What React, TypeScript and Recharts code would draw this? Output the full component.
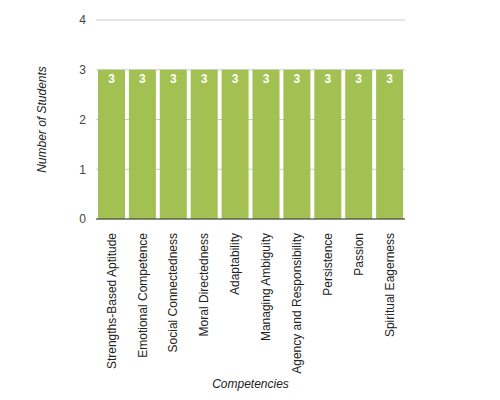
import React from "react"
import { BarChart, Bar, XAxis, YAxis, CartesianGrid, LabelList } from "recharts"

const competencies = [
  "Strengths-Based Aptitude",
  "Emotional Competence",
  "Social Connectedness",
  "Moral Directedness",
  "Adaptability",
  "Managing Ambiguity",
  "Agency and Responsibility",
  "Persistence",
  "Passion",
  "Spiritual Eagerness",
]
const studentCounts = [3, 3, 3, 3, 3, 3, 3, 3, 3, 3]
const yTicks = [0, 1, 2, 3, 4]

const FONT = "Arial, 'Liberation Sans', sans-serif"
const BAR_COLOR = "#a2c152"

const data = competencies.map((name, i) => ({ name, students: studentCounts[i] }))

function CategoryTick(props: any) {
  const { x, y, payload } = props
  return (
    <g transform={`translate(${x},${y + 6})`}>
      <text
        transform="rotate(-90)"
        textAnchor="end"
        dy="0.35em"
        fill="#222"
        fontSize={12}
        fontFamily={FONT}
      >
        {payload.value}
      </text>
    </g>
  )
}

function YTitle(props: any) {
  const { viewBox } = props
  const cy = viewBox.y + viewBox.height / 2
  return (
    <text
      x={42}
      y={cy}
      transform={`rotate(-90, 42, ${cy})`}
      textAnchor="middle"
      dominantBaseline="central"
      fontStyle="italic"
      fontSize={12}
      fontFamily={FONT}
      fill="#222"
    >
      Number of Students
    </text>
  )
}

function XTitle(props: any) {
  const { viewBox } = props
  const cx = viewBox.x + viewBox.width / 2
  return (
    <text
      x={cx}
      y={388}
      textAnchor="middle"
      fontStyle="italic"
      fontSize={12}
      fontFamily={FONT}
      fill="#222"
    >
      Competencies
    </text>
  )
}

export default function App() {
  return (
    <div style={{ position: "absolute", left: 0, top: 0, width: 500, height: 400, background: "#fff" }}>
      <BarChart
        width={500}
        height={400}
        data={data}
        margin={{ top: 20, right: 95, left: 0, bottom: 0 }}
        barCategoryGap={2}
      >
        <CartesianGrid vertical={false} stroke="#cccccc" />
        <XAxis
          dataKey="name"
          interval={0}
          height={181}
          axisLine={{ stroke: "#333" }}
          tickLine={false}
          tick={<CategoryTick />}
          label={<XTitle />}
        />
        <YAxis
          width={96}
          domain={[0, 4]}
          ticks={yTicks}
          axisLine={false}
          tickLine={false}
          tickSize={6}
          tickMargin={4}
          tick={{ fill: "#444", fontSize: 12, fontFamily: FONT }}
          label={<YTitle />}
        />
        <Bar dataKey="students" fill={BAR_COLOR} isAnimationActive={false}>
          <LabelList
            dataKey="students"
            position="insideTop"
            fill="#fff"
            fontWeight="bold"
            fontSize={12}
            fontFamily={FONT}
          />
        </Bar>
      </BarChart>
    </div>
  )
}
